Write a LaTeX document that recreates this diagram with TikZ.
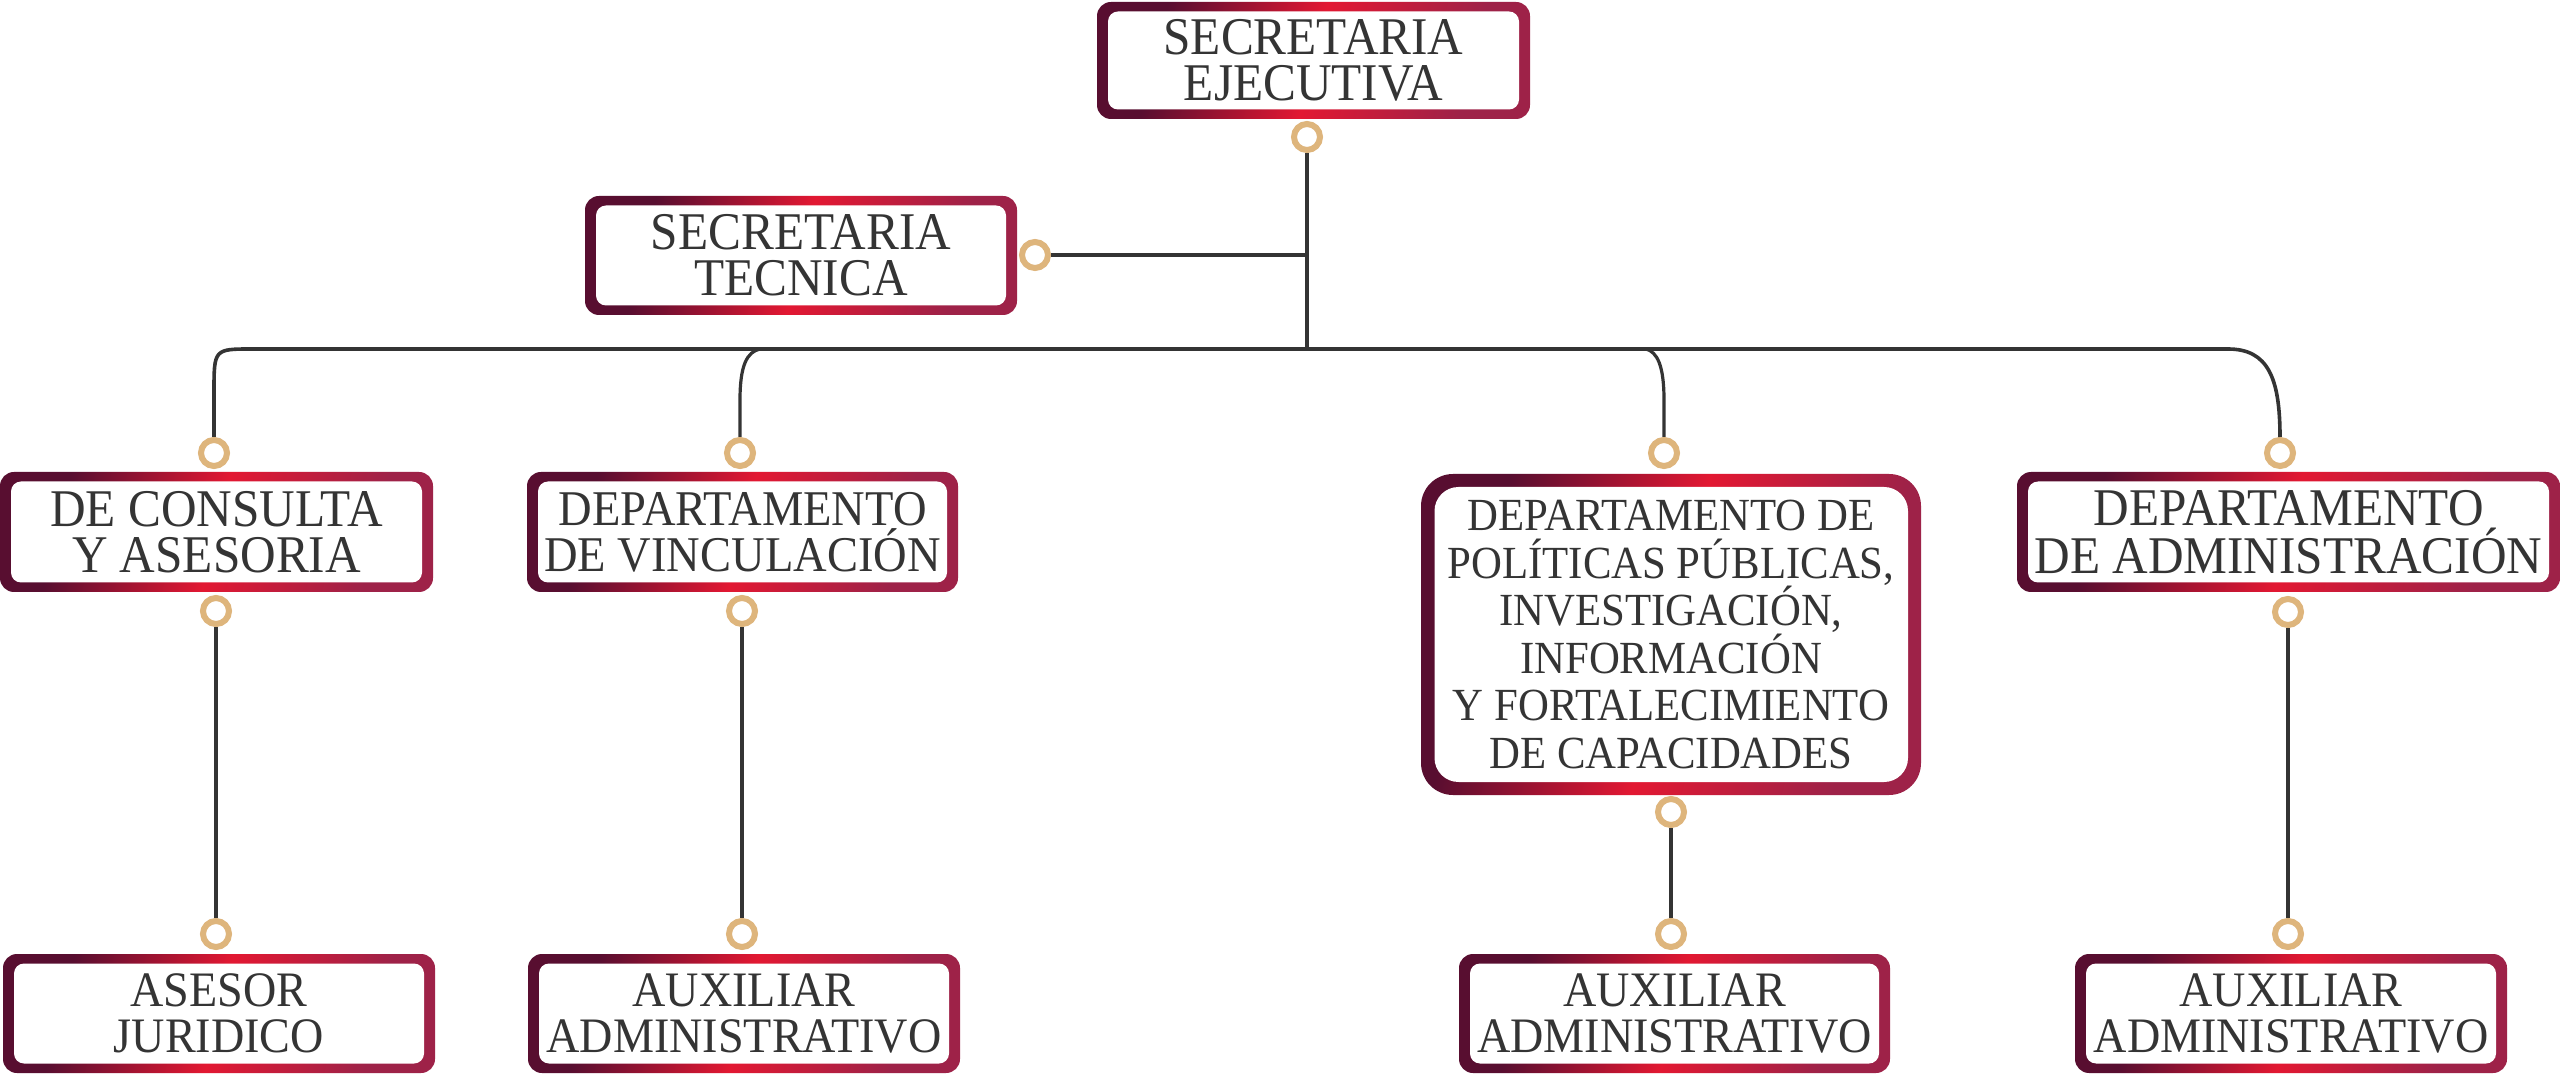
\documentclass[tikz,border=0pt]{standalone}
\usepackage{fontspec}
\setmainfont{Liberation Serif}[FakeStretch=0.93]
\definecolor{cDark}{RGB}{88,14,48}
\definecolor{cRed}{RGB}{226,24,50}
\definecolor{cRose}{RGB}{158,34,72}
\definecolor{ringc}{RGB}{222,181,124}
\definecolor{linec}{RGB}{52,52,52}
\definecolor{textc}{RGB}{52,52,52}
\pgfdeclarehorizontalshading{brd}{100bp}{color(0bp)=(cDark); color(29bp)=(cDark); color(50bp)=(cRed); color(71bp)=(cRose); color(100bp)=(cRose)}
\tikzset{
  gradfill/.style={shading=brd, shading angle=-14},
  orgbox/.style={rectangle, fill=white, rounded corners=7pt, inner sep=0pt, outer sep=0pt,
    align=center, text=textc, font=\fontsize{26.5}{23}\selectfont,
    path picture={
      \shade[gradfill] (path picture bounding box.south west) rectangle (path picture bounding box.north east);
      \fill[white, rounded corners=5pt] ([shift={(5.5pt,4.75pt)}]path picture bounding box.south west)
        rectangle ([shift={(-5.5pt,-4.75pt)}]path picture bounding box.north east);
    }},
  bigbox/.style={rectangle, fill=white, rounded corners=16pt, inner sep=0pt, outer sep=0pt,
    align=center, text=textc, font=\fontsize{23}{23.8}\selectfont,
    path picture={
      \shade[gradfill] (path picture bounding box.south west) rectangle (path picture bounding box.north east);
      \fill[white, rounded corners=12pt] ([shift={(6.75pt,6.5pt)}]path picture bounding box.south west)
        rectangle ([shift={(-6.5pt,-6.5pt)}]path picture bounding box.north east);
    }},
  ring/.style={circle, draw=ringc, line width=3pt, fill=white, minimum size=13pt, inner sep=0pt},
  conn/.style={draw=linec, line width=1.6pt},
  busline/.style={draw=linec, line width=1.8pt},
}
\begin{document}
\begin{tikzpicture}[x=0.5pt,y=-0.5pt]
\useasboundingbox (0,0) rectangle (2560,1074);
\fill[white] (0,0) rectangle (2560,1074);

% boxes
\node[orgbox, minimum width=216.5pt, minimum height=58.5pt] (se) at (1313.5,60.5) {SECRETARIA\\EJECUTIVA};
\node[orgbox, minimum width=216pt, minimum height=59.5pt] (st) at (801,255.5) {SECRETARIA\\TECNICA};

\node[orgbox, minimum width=216.5pt, minimum height=60pt] (b1) at (216.5,532) {DE CONSULTA\\Y ASESORIA};
\node[orgbox, minimum width=215.5pt, minimum height=60pt, font=\fontsize{25}{23}\selectfont] (b2) at (742.5,532) {DEPARTAMENTO\\DE VINCULACIÓN};
\node[bigbox, minimum width=250pt, minimum height=160.5pt] (b3) at (1671,634.5) {DEPARTAMENTO DE\\POLÍTICAS PÚBLICAS,\\INVESTIGACIÓN,\\INFORMACIÓN\\Y FORTALECIMIENTO\\DE CAPACIDADES};
\node[orgbox, minimum width=271.5pt, minimum height=60pt] (b4) at (2288.5,532) {DEPARTAMENTO\\DE ADMINISTRACIÓN};

\node[orgbox, minimum width=216pt, minimum height=59.5pt, font=\fontsize{24.8}{23}\selectfont] (l1) at (219,1013.5) {ASESOR\\JURIDICO};
\node[orgbox, minimum width=216pt, minimum height=59.5pt, font=\fontsize{24.8}{23}\selectfont] (l2) at (744,1013.5) {AUXILIAR\\ADMINISTRATIVO};
\node[orgbox, minimum width=215.5pt, minimum height=59.5pt, font=\fontsize{24.8}{23}\selectfont] (l3) at (1674.5,1013.5) {AUXILIAR\\ADMINISTRATIVO};
\node[orgbox, minimum width=216pt, minimum height=59.5pt, font=\fontsize{24.8}{23}\selectfont] (l4) at (2291,1013.5) {AUXILIAR\\ADMINISTRATIVO};

% rings
\node[ring] (cse) at (1307,137) {};
\node[ring] (cst) at (1035,255) {};
\node[ring] (c1t) at (214,453) {};
\node[ring] (c1b) at (216,611) {};
\node[ring] (c1l) at (216,934) {};
\node[ring] (c2t) at (740,453) {};
\node[ring] (c2b) at (742,611) {};
\node[ring] (c2l) at (742,934) {};
\node[ring] (c3t) at (1664,453) {};
\node[ring] (c3b) at (1671,812) {};
\node[ring] (c3l) at (1671,934) {};
\node[ring] (c4t) at (2280,453) {};
\node[ring] (c4b) at (2288,612) {};
\node[ring] (c4l) at (2288,934) {};

\coordinate (bus) at (1307,349);

% connectors
\draw[conn] (cse.south) -- (bus);
\draw[conn] (cst.east) -- (cst.east -| bus);
\draw[busline] (c1t.north) -- (214,392) .. controls (214,349) .. (252,349)
  -- (2228,349) .. controls (2268,349) and (2280,378) .. (c4t.north);
\draw[conn] (c2t.north) -- (740,400) .. controls (740,365) and (747,352) .. (760,349);
\draw[conn] (c3t.north) -- (1664,400) .. controls (1664,365) and (1657,352) .. (1646,349);
\draw[conn] (c1b.south) -- (c1l.north);
\draw[conn] (c2b.south) -- (c2l.north);
\draw[conn] (c3b.south) -- (c3l.north);
\draw[conn] (c4b.south) -- (c4l.north);
\end{tikzpicture}
\end{document}
